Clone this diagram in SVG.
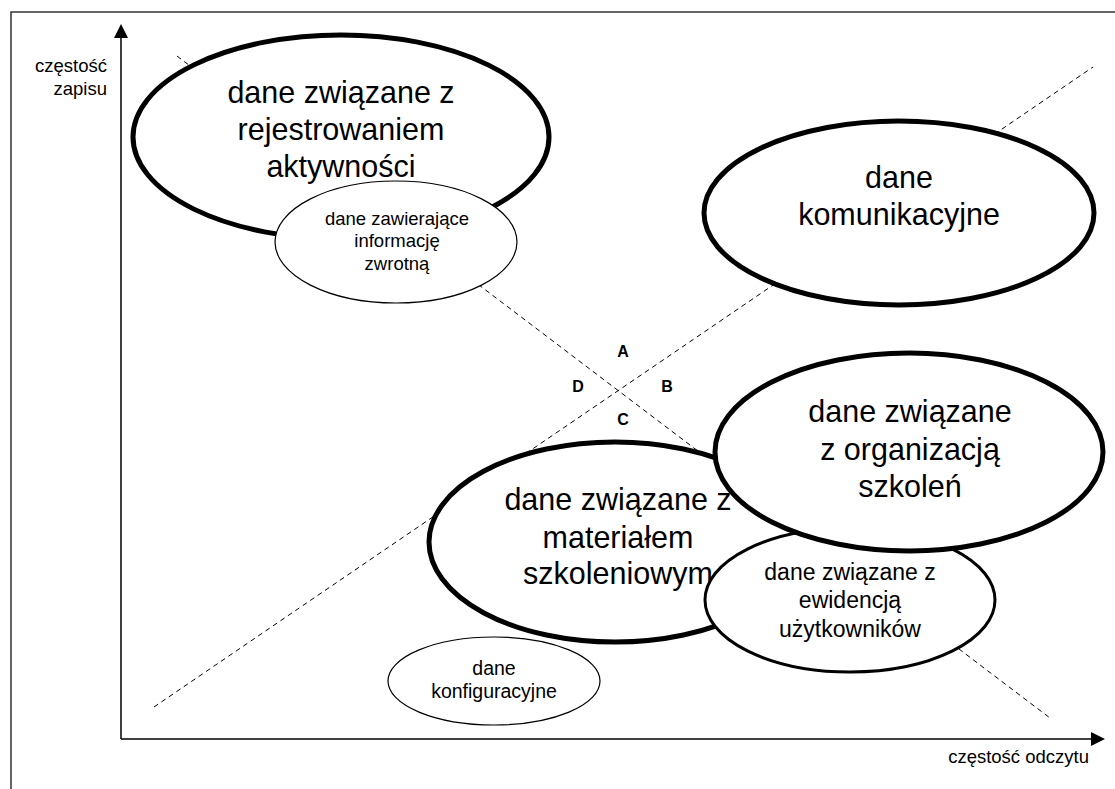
<svg xmlns="http://www.w3.org/2000/svg" width="1115" height="789" viewBox="0 0 1115 789">
<style>
text{font-family:"Liberation Sans",Arial,sans-serif;fill:#000;text-anchor:middle}
.big{font-size:30.5px}
.mid{font-size:23px}
.sm{font-size:18.5px}
.cf{font-size:19.5px}
.ax{font-size:18.5px;text-anchor:end}
.q{font-size:16px;font-weight:bold}
.thick{fill:#fff;stroke:#000;stroke-width:5}
.medium{fill:#fff;stroke:#000;stroke-width:3}
.thin{fill:#fff;stroke:#000;stroke-width:1.2}
.dash{stroke:#000;stroke-width:1;stroke-dasharray:5,4;fill:none}
.axis{stroke:#000;stroke-width:1.5;fill:none}
</style>
<rect x="0" y="0" width="1115" height="789" fill="#fff"/>
<rect x="11" y="12" width="1200" height="900" fill="none" stroke="#333" stroke-width="1.5"/>
<g id="axes">
<line class="axis" x1="121" y1="739" x2="121" y2="36"/>
<polygon points="121,24 114,38 128,38" fill="#000"/>
<line class="axis" x1="121" y1="739" x2="1092" y2="739"/>
<polygon points="1105,739 1091,732 1091,746" fill="#000"/>
<text class="ax" x="107" y="72">częstość</text>
<text class="ax" x="107" y="95">zapisu</text>
<text class="ax" x="1089" y="763">częstość odczytu</text>
</g>
<g id="connectors">
<line class="dash" x1="177" y1="56" x2="1050" y2="718"/>
<line class="dash" x1="154" y1="707" x2="1093" y2="67"/>
</g>
<g id="quadrants">
<text class="q" x="623" y="357">A</text>
<text class="q" x="667" y="392">B</text>
<text class="q" x="623" y="425">C</text>
<text class="q" x="578" y="392">D</text>
</g>
<g id="n-rejestrowanie">
<ellipse class="thick" cx="341" cy="137" rx="208" ry="102"/>
<text class="big" x="341" y="103">dane związane z</text>
<text class="big" x="341" y="140">rejestrowaniem</text>
<text class="big" x="341" y="177">aktywności</text>
</g>
<g id="n-zwrotna">
<ellipse class="thin" cx="396" cy="242" rx="121" ry="61"/>
<text class="sm" x="397" y="225">dane zawierające</text>
<text class="sm" x="397" y="247">informację</text>
<text class="sm" x="397" y="270">zwrotną</text>
</g>
<g id="n-komunikacyjne">
<ellipse class="thick" cx="899" cy="213" rx="195" ry="92"/>
<text class="big" x="899" y="188">dane</text>
<text class="big" x="899" y="225">komunikacyjne</text>
</g>
<g id="n-material">
<ellipse class="thick" cx="615" cy="542" rx="186" ry="100"/>
<text class="big" x="618" y="510">dane związane z</text>
<text class="big" x="618" y="548">materiałem</text>
<text class="big" x="618" y="584">szkoleniowym</text>
</g>
<g id="n-ewidencja">
<ellipse class="medium" cx="850" cy="600" rx="145" ry="72"/>
<text class="mid" x="850" y="580">dane związane z</text>
<text class="mid" x="850" y="608">ewidencją</text>
<text class="mid" x="850" y="637">użytkowników</text>
</g>
<g id="n-organizacja">
<ellipse class="thick" cx="909" cy="452" rx="194" ry="99"/>
<text class="big" x="910" y="422">dane związane</text>
<text class="big" x="910" y="460">z organizacją</text>
<text class="big" x="910" y="497">szkoleń</text>
</g>
<g id="n-konfiguracyjne">
<ellipse class="thin" cx="494" cy="681" rx="106" ry="44"/>
<text class="cf" x="494" y="675">dane</text>
<text class="cf" x="494" y="698">konfiguracyjne</text>
</g>
</svg>
